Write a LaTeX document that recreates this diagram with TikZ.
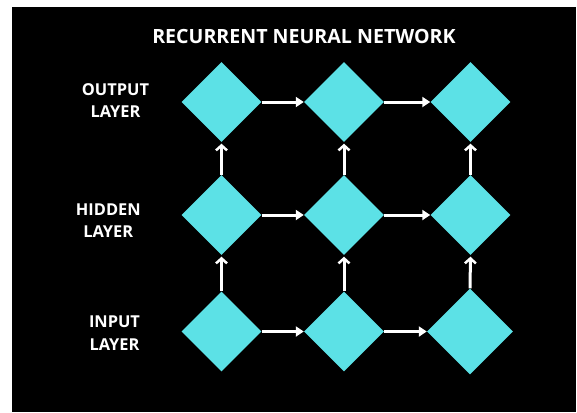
\documentclass[tikz,border=0pt]{standalone}
\usepackage{fontspec}
\setmainfont{Open Sans}
\usetikzlibrary{shapes.geometric,arrows.meta}
\definecolor{cell}{HTML}{5CE1E6}
\tikzset{
  cellbox/.style={diamond,aspect=1,fill=cell,draw=none,inner sep=0pt,minimum width=80pt,minimum height=80pt},
  harrow/.style={draw=white,line width=3pt,-{Triangle[length=8pt,width=10pt]}},
  varrow/.style={draw=white,line width=3pt,-{Straight Barb[length=5pt,width=11pt,line width=2.5pt]},shorten >=1.5pt},
  lbl/.style={text=white,font=\bfseries\fontsize{16.4}{22.5}\selectfont,align=center,inner sep=0pt},
  ttl/.style={text=white,font=\bfseries\fontsize{19.6}{22}\selectfont,inner sep=0pt}
}
\begin{document}
\begin{tikzpicture}[x=1pt,y=-1pt]
\fill[white] (0,0) rectangle (577,412);
\useasboundingbox (0,0) rectangle (577,412);
\fill[black] (12,7) rectangle (576,412);
\node[ttl,anchor=base] (title) at (304,43.3) {RECURRENT NEURAL NETWORK};
\node[lbl] (lo) at (115.5,100.5) {OUTPUT\\LAYER};
\node[lbl] (lh) at (108.3,220.8) {HIDDEN\\LAYER};
\node[lbl] (li) at (114.5,333.3) {INPUT\\LAYER};
\node[cellbox] (o1) at (221.5,102) {};
\node[cellbox] (o2) at (344,102) {};
\node[cellbox] (o3) at (470.5,102) {};
\node[cellbox] (h1) at (221.5,215) {};
\node[cellbox] (h2) at (344,215) {};
\node[cellbox] (h3) at (470.5,215) {};
\node[cellbox] (i1) at (221.5,331.5) {};
\node[cellbox] (i2) at (344,331.5) {};
\node[cellbox,minimum width=86pt,minimum height=86pt] (i3) at (470,331.5) {};
\draw[harrow] (o1.east) -- (o2.west);
\draw[harrow] (o2.east) -- (o3.west);
\draw[harrow] (h1.east) -- (h2.west);
\draw[harrow] (h2.east) -- (h3.west);
\draw[harrow] (i1.east) -- (i2.west);
\draw[harrow] (i2.east) -- (i3.west);
\draw[varrow] (i1.north) -- (h1.south);
\draw[varrow] (i2.north) -- (h2.south);
\draw[varrow] (i3.north) -- (h3.south);
\draw[varrow] (h1.north) -- (o1.south);
\draw[varrow] (h2.north) -- (o2.south);
\draw[varrow] (h3.north) -- (o3.south);
\end{tikzpicture}
\end{document}
